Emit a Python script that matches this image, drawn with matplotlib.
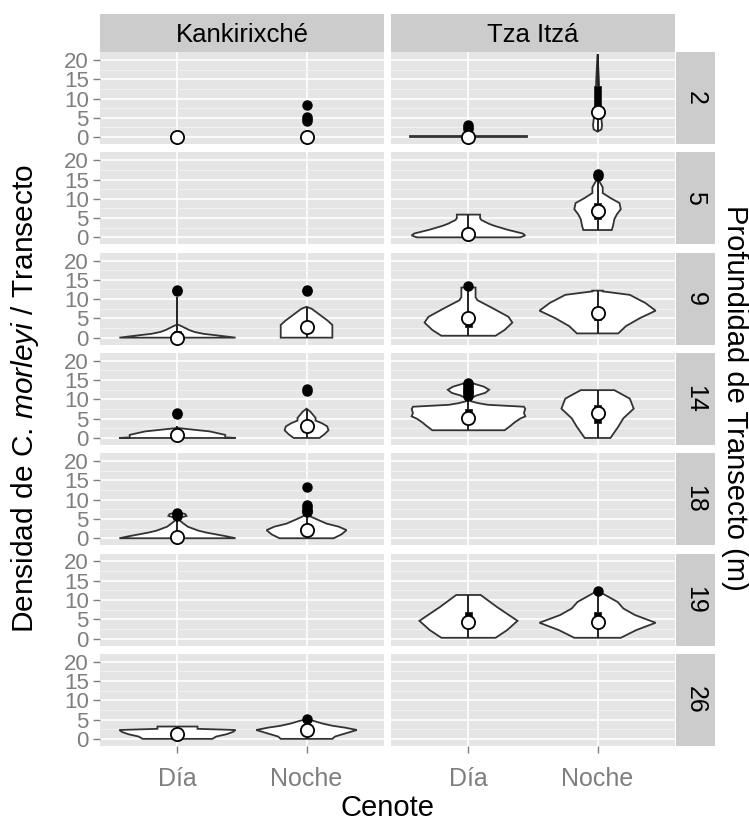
import matplotlib
matplotlib.use("Agg")
import matplotlib.pyplot as plt
from matplotlib.patches import Rectangle
import numpy as np

plt.rcParams["font.family"] = ["Liberation Sans", "DejaVu Sans"]
plt.rcParams["mathtext.fontset"] = "custom"
plt.rcParams["mathtext.rm"] = "Liberation Sans"
plt.rcParams["mathtext.it"] = "Liberation Sans:italic"

# facets
cenotes = ["Kankirixché", "Tza Itzá"]
periods = ["Día", "Noche"]
depths = [2, 5, 9, 14, 18, 19, 26]

# one entry per (cenote, period, depth) group
grp_cenote = [0, 0, 0, 0, 0, 0, 0, 0, 0, 0, 1, 1, 1, 1, 1, 1, 1, 1, 1, 1]
grp_period = [0, 1, 0, 1, 0, 1, 0, 1, 0, 1, 0, 1, 0, 1, 0, 1, 0, 1, 0, 1]
grp_depth = [2, 2, 9, 9, 14, 14, 18, 18, 26, 26, 2, 2, 5, 5, 9, 9, 14, 14, 19, 19]

# violin outline: density levels and half widths
violin_y = [
    [], [],
    [0, 0.5, 1.0, 1.5, 2.0, 2.5, 3.0, 3.4],
    [0, 3.3, 4.5, 5.5, 6.5, 7.5, 8.0],
    [0, 0.15, 0.8, 1.7, 2.3, 2.6],
    [0, 1, 2, 3, 3.8, 4.5, 5.2, 6.0, 6.8, 7.6],
    [0, 0.5, 1, 1.5, 2, 2.5, 3, 3.5, 4, 4.7, 5.3, 5.8, 6.3, 6.7],
    [0, 1, 2.1, 3, 3.8, 4.9, 5.5, 6.2],
    [0, 0.6, 1.2, 1.8, 2.3, 2.6, 3.2],
    [0, 0.6, 1.1, 1.7, 2.3, 2.9, 3.4, 4.0, 4.7, 5.0],
    [0, 0.2],
    [1.4, 2, 3, 4.6, 6, 10, 15, 21.5],
    [0, 0.5, 1.0, 1.5, 2.0, 2.5, 3.0, 3.5, 4.0, 4.5, 5.0, 5.9],
    [1.9, 3, 4.7, 6.0, 7.3, 8.9, 10.2, 11.5, 13, 15.3],
    [0.5, 2.0, 3.9, 5.4, 7.6, 9.7, 10.5, 13.0],
    [1.1, 3.0, 5.1, 7.0, 9.0, 11.1, 12.0, 12.2],
    [2.0, 3.0, 4.1, 5.0, 5.6, 6.5, 7.5, 8.1, 8.6, 9.0, 9.5, 10.3, 11.0, 11.7, 12.5, 13.3, 14.0, 14.6],
    [0, 2.9, 5.1, 7.6, 10.2, 12.4],
    [0.2, 2.2, 4.6, 8.2, 11.3],
    [0.2, 2.2, 4.1, 6.1, 7.8, 9.5, 12.4],
]
violin_w = [
    [], [],
    [0.45, 0.33, 0.2, 0.13, 0.09, 0.06, 0.03, 0.0],
    [0.2, 0.2, 0.16, 0.12, 0.08, 0.04, 0.0],
    [0.45, 0.37, 0.37, 0.25, 0.08, 0.0],
    [0.1, 0.14, 0.17, 0.16, 0.12, 0.07, 0.07, 0.05, 0.03, 0.0],
    [0.45, 0.38, 0.3, 0.22, 0.16, 0.12, 0.08, 0.06, 0.04, 0.015, 0.015, 0.07, 0.06, 0.0],
    [0.21, 0.27, 0.31, 0.25, 0.155, 0.08, 0.04, 0.0],
    [0.27, 0.3, 0.38, 0.43, 0.45, 0.155, 0.155],
    [0.2, 0.22, 0.27, 0.33, 0.39, 0.3, 0.2, 0.12, 0.05, 0.0],
    [0.45, 0.45],
    [0.0, 0.03, 0.035, 0.03, 0.02, 0.015, 0.01, 0.0],
    [0.40, 0.44, 0.42, 0.36, 0.30, 0.25, 0.2, 0.16, 0.13, 0.1, 0.09, 0.09],
    [0.11, 0.12, 0.13, 0.15, 0.18, 0.17, 0.1, 0.04, 0.04, 0.0],
    [0.21, 0.28, 0.34, 0.31, 0.19, 0.07, 0.055, 0.055],
    [0.16, 0.22, 0.33, 0.45, 0.37, 0.25, 0.04, 0.04],
    [0.28, 0.32, 0.36, 0.4, 0.44, 0.43, 0.44, 0.43, 0.15, 0.08, 0.02, 0.02, 0.06, 0.13, 0.16, 0.12, 0.05, 0.0],
    [0.1, 0.16, 0.2, 0.28, 0.25, 0.13],
    [0.21, 0.3, 0.38, 0.22, 0.095],
    [0.18, 0.3, 0.45, 0.29, 0.2, 0.155, 0.0],
]

# boxplot pieces (None = not drawn)
whisk_lo = [None, None, 0, 0, 0, 0, 0, 0, 0, 0, 0, 1.4, 0, 1.9, 0.5, 1.1, 2.0, 0, 0.2, 0.2]
box_q1 = [None, None, 0, 1.5, 0, 1.5, 0, 1.0, 0.5, 1.0, 0, 6.0, 0, 4.7, 2.8, 4.5, 4.0, 4.0, 3.0, 3.0]
box_q3 = [None, None, 1.8, 4.0, 1.5, 4.5, 1.5, 3.5, 2.5, 3.0, 0, 13.3, 2.0, 9.0, 6.5, 8.0, 7.5, 8.5, 7.0, 6.8]
whisk_hi = [None, None, 10.5, 8.0, 3.0, 7.6, 5.0, 6.5, 3.0, 4.5, 0, 21.5, 5.9, 15.3, 13.0, 12.2, 10.0, 12.4, 11.3, 12.0]
mean_val = [0, 0, 0, 2.7, 0.8, 3.0, 0.3, 2.1, 1.3, 2.2, 0, 6.4, 1.0, 6.8, 5.0, 6.3, 5.1, 6.4, 4.4, 4.2]
outliers = [
    [], [8.2, 5.3, 4.8, 4.2],
    [12.0, 12.3], [12.0, 12.3],
    [6.2, 6.5], [12.3, 12.6],
    [5.9, 6.2, 6.5], [13.2, 8.6, 8.0, 7.4, 7.0, 6.7],
    [], [5.2],
    [2.0, 2.5, 3.0], [],
    [], [16.0, 16.4],
    [13.4], [],
    [10.8, 11.3, 11.8, 12.3, 12.8, 13.3, 13.8, 14.3], [],
    [], [12.3],
]

W, H = 749, 826
fig = plt.figure(figsize=(W / 100, H / 100), dpi=100)


def px_axes(x, y, w, h):
    return fig.add_axes([x / W, 1 - (y + h) / H, w / W, h / H])


col_x = [100, 391]
col_w = 284
row_top0, row_pitch, row_h = 52, 100.3, 92
grey_txt = "#7F7F7F"

axes = {}
for r, d in enumerate(depths):
    top = row_top0 + r * row_pitch
    for c in range(2):
        ax = px_axes(col_x[c], top, col_w, row_h)
        ax.set_facecolor("#E5E5E5")
        ax.set_xlim(0.4, 2.6)
        ax.set_ylim(-1.8, 22.06)
        ax.set_xticks([1, 2])
        ax.set_yticks([0, 5, 10, 15, 20])
        ax.set_yticks([2.5, 7.5, 12.5, 17.5], minor=True)
        ax.grid(which="major", color="white", lw=1.2)
        ax.grid(which="minor", color="#F2F2F2", lw=0.7)
        ax.set_axisbelow(True)
        for s in ax.spines.values():
            s.set_visible(False)
        ax.tick_params(which="minor", length=0)
        ax.tick_params(which="major", color=grey_txt, length=5, width=1,
                       labelcolor=grey_txt, labelsize=16, pad=3)
        if c == 0:
            ax.set_yticklabels(["0", "5", "10", "15", "20"])
        else:
            ax.tick_params(axis="y", length=0, labelleft=False)
        if r == len(depths) - 1:
            ax.set_xticklabels(periods)
            ax.tick_params(axis="x", pad=10, labelsize=18)
        else:
            ax.tick_params(axis="x", length=0, labelbottom=False)
        axes[(c, d)] = ax

    # row strip
    sax = px_axes(676, top, 39, row_h)
    sax.set_facecolor("#CCCCCC")
    sax.set_xticks([])
    sax.set_yticks([])
    for s in sax.spines.values():
        s.set_visible(False)
    sax.text(0.5, 0.5, str(d), rotation=-90, ha="center", va="center",
             fontsize=18, transform=sax.transAxes)

# column strips
for c, name in enumerate(cenotes):
    sax = px_axes(col_x[c], 14, col_w, 38)
    sax.set_facecolor("#CCCCCC")
    sax.set_xticks([])
    sax.set_yticks([])
    for s in sax.spines.values():
        s.set_visible(False)
    sax.text(0.5, 0.45, name, ha="center", va="center", fontsize=18.5,
             transform=sax.transAxes)

# violins + boxplots + points
for i in range(len(grp_cenote)):
    ax = axes[(grp_cenote[i], grp_depth[i])]
    xc = grp_period[i] + 1
    vy = np.array(violin_y[i], dtype=float)
    vw = np.array(violin_w[i], dtype=float)
    if len(vy):
        xs = np.concatenate([xc + vw, (xc - vw)[::-1]])
        ys = np.concatenate([vy, vy[::-1]])
        ax.fill(xs, ys, facecolor="white", edgecolor="#333333", lw=1.3, zorder=2)
    if whisk_lo[i] is not None:
        ax.plot([xc, xc], [whisk_lo[i], whisk_hi[i]], color="#222222", lw=1.4,
                zorder=3, solid_capstyle="butt")
        if box_q3[i] > box_q1[i]:
            ax.add_patch(Rectangle((xc - 0.024, box_q1[i]), 0.048,
                                   box_q3[i] - box_q1[i], facecolor="black",
                                   edgecolor="#222222", lw=0.6, zorder=3))
    if outliers[i]:
        ax.plot([xc] * len(outliers[i]), outliers[i], "o", color="black",
                ms=6.5, zorder=4)
    ax.plot(xc, mean_val[i], "o", mfc="white", mec="black", ms=9.5, mew=1.3,
            zorder=5)

# axis titles
fig.text(388 / W, 1 - 808 / H, "Cenote", ha="center", va="center", fontsize=21)
fig.text(25 / W, 1 - 398 / H, r"Densidad de C. $\mathit{morleyi}$ / Transecto",
         rotation=90, ha="center", va="center", fontsize=21.5)
fig.text(735 / W, 1 - 398 / H, "Profundidad de Transecto (m)", rotation=-90,
         ha="center", va="center", fontsize=21)

fig.savefig("out.png", dpi=100, facecolor="white")
